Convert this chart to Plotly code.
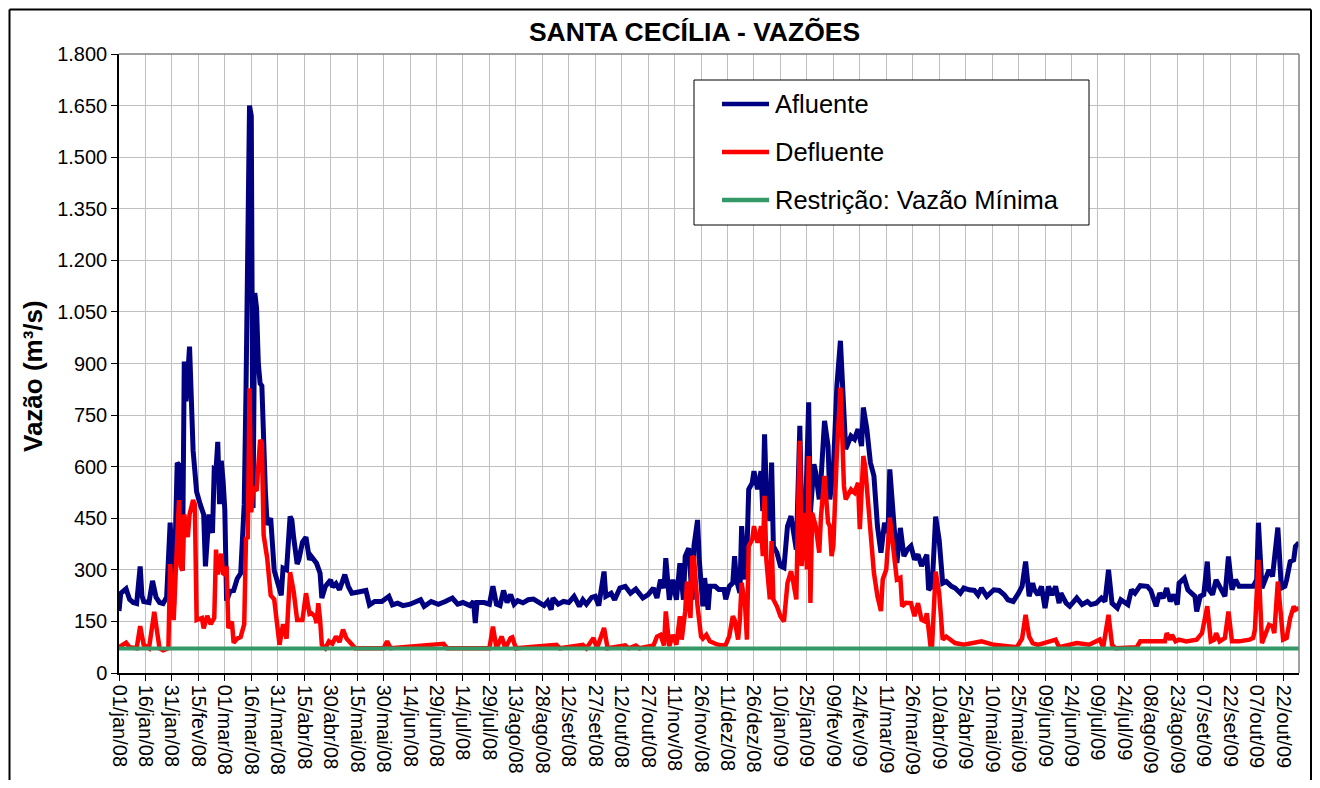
import pandas as pd
import plotly.graph_objects as go

# ---------------- data ----------------
data_inicial = "2008-01-01"
data_final = "2009-10-31"

dias_afluente = [0, 1, 4, 6, 8, 10, 12, 13, 14, 17, 19, 21, 23, 25, 27, 29, 30, 31, 33, 35, 36, 37, 38, 40, 42, 43, 44, 46, 48, 49, 51, 53, 54, 55, 56, 57, 58, 59, 60, 61, 63, 65, 67, 69, 71, 72, 74, 75, 76, 77, 78, 79, 80, 81, 82, 83, 84, 86, 88, 90, 92, 93, 95, 97, 98, 99, 101, 102, 104, 106, 108, 109, 110, 112, 114, 115, 117, 120, 121, 123, 125, 128, 130, 132, 135, 140, 142, 145, 149, 153, 155, 158, 161, 165, 171, 173, 177, 181, 185, 189, 192, 195, 199, 201, 202, 203, 207, 210, 212, 214, 216, 218, 220, 222, 224, 226, 229, 232, 235, 238, 241, 243, 245, 246, 249, 252, 255, 258, 261, 263, 265, 268, 270, 272, 275, 276, 279, 281, 284, 287, 290, 293, 295, 297, 300, 303, 305, 307, 309, 310, 312, 314, 316, 318, 320, 321, 323, 325, 326, 328, 329, 331, 332, 334, 335, 338, 340, 343, 344, 346, 348, 349, 350, 352, 353, 355, 356, 357, 359, 360, 362, 364, 365, 366, 367, 369, 370, 371, 373, 375, 377, 379, 381, 382, 384, 386, 387, 389, 391, 392, 394, 395, 397, 398, 400, 402, 403, 405, 407, 409, 410, 412, 415, 417, 419, 421, 422, 424, 426, 428, 430, 432, 434, 436, 437, 439, 441, 443, 445, 447, 449, 451, 453, 455, 457, 458, 459, 461, 463, 465, 467, 469, 472, 474, 477, 479, 482, 485, 487, 489, 492, 496, 499, 502, 504, 507, 510, 512, 514, 516, 518, 519, 521, 523, 525, 527, 529, 531, 533, 534, 537, 539, 543, 546, 549, 551, 554, 557, 559, 561, 563, 566, 568, 570, 572, 574, 576, 579, 583, 585, 586, 588, 590, 592, 594, 596, 598, 600, 601, 604, 606, 608, 610, 611, 613, 615, 617, 618, 620, 622, 624, 627, 629, 631, 633, 635, 640, 643, 645, 646, 648, 650, 652, 654, 657, 659, 661, 662, 664, 666, 667, 669]
vazao_afluente = [180, 232, 245, 214, 205, 202, 310, 225, 208, 205, 268, 220, 205, 202, 220, 437, 330, 196, 611, 600, 298, 906, 790, 949, 648, 600, 527, 491, 461, 310, 461, 407, 593, 590, 672, 491, 617, 560, 473, 210, 238, 240, 274, 290, 491, 822, 1650, 1620, 480, 1105, 1060, 900, 842, 835, 600, 527, 431, 450, 298, 260, 226, 305, 300, 455, 445, 395, 317, 330, 380, 395, 329, 339, 330, 319, 290, 218, 252, 271, 250, 260, 242, 286, 252, 232, 235, 240, 198, 208, 208, 223, 198, 203, 196, 200, 213, 194, 208, 200, 208, 218, 200, 205, 196, 208, 145, 205, 205, 200, 252, 200, 196, 240, 205, 228, 200, 210, 204, 213, 215, 205, 196, 208, 184, 218, 200, 208, 205, 223, 194, 213, 200, 220, 223, 196, 295, 223, 232, 213, 247, 252, 232, 244, 228, 218, 228, 247, 218, 271, 247, 334, 213, 271, 213, 319, 213, 339, 363, 213, 370, 445, 329, 194, 276, 184, 252, 252, 243, 243, 214, 252, 262, 340, 272, 233, 427, 272, 350, 534, 553, 587, 534, 587, 471, 694, 524, 442, 612, 369, 350, 311, 306, 427, 456, 427, 359, 719, 466, 418, 787, 466, 607, 583, 505, 563, 733, 660, 505, 592, 835, 966, 854, 651, 689, 680, 709, 660, 772, 709, 612, 573, 427, 350, 437, 408, 592, 476, 320, 422, 340, 359, 369, 330, 345, 311, 330, 344, 242, 252, 455, 387, 261, 266, 252, 247, 232, 247, 242, 240, 227, 247, 223, 242, 240, 227, 213, 208, 232, 252, 324, 223, 261, 242, 227, 252, 189, 252, 227, 252, 203, 232, 203, 194, 218, 199, 208, 199, 203, 218, 208, 300, 203, 189, 213, 208, 199, 242, 232, 254, 252, 240, 223, 194, 232, 218, 247, 208, 228, 199, 261, 276, 242, 232, 223, 179, 223, 228, 324, 242, 228, 271, 252, 223, 339, 242, 271, 252, 252, 252, 271, 437, 247, 276, 300, 281, 423, 247, 252, 271, 324, 329, 368, 379]

dias_defluente = [0, 4, 6, 10, 12, 14, 17, 20, 22, 23, 25, 28, 29, 31, 32, 34, 35, 36, 37, 39, 40, 42, 43, 44, 47, 48, 50, 52, 54, 55, 56, 58, 59, 60, 61, 62, 64, 65, 67, 69, 71, 72, 73, 74, 75, 76, 78, 80, 81, 82, 84, 86, 88, 90, 91, 93, 95, 97, 99, 101, 104, 106, 108, 109, 111, 112, 113, 114, 115, 117, 119, 121, 123, 125, 127, 129, 132, 134, 150, 152, 154, 184, 186, 210, 212, 214, 217, 219, 222, 223, 225, 248, 250, 263, 265, 269, 271, 275, 277, 287, 289, 293, 295, 303, 305, 307, 309, 310, 312, 314, 316, 318, 319, 321, 322, 324, 325, 326, 328, 330, 331, 333, 335, 337, 339, 342, 344, 346, 348, 349, 351, 352, 353, 355, 356, 357, 359, 360, 362, 364, 365, 366, 367, 369, 370, 371, 373, 375, 377, 379, 381, 382, 384, 385, 386, 387, 389, 390, 391, 392, 393, 395, 397, 398, 400, 402, 403, 404, 405, 407, 409, 410, 411, 412, 415, 417, 419, 420, 422, 423, 425, 426, 428, 430, 432, 433, 435, 437, 439, 441, 443, 444, 446, 448, 449, 451, 453, 455, 457, 458, 460, 461, 463, 465, 467, 469, 472, 474, 479, 489, 496, 509, 512, 514, 516, 518, 521, 527, 531, 533, 543, 550, 556, 558, 561, 563, 565, 577, 579, 593, 594, 596, 597, 599, 601, 605, 611, 614, 617, 619, 621, 622, 624, 627, 629, 631, 635, 641, 643, 644, 646, 648, 650, 652, 654, 655, 657, 659, 660, 662, 664, 666, 667, 669]
vazao_defluente = [75, 88, 75, 72, 136, 82, 72, 178, 106, 72, 66, 72, 317, 154, 274, 503, 310, 298, 461, 395, 461, 503, 490, 154, 160, 130, 166, 142, 160, 359, 287, 347, 290, 287, 310, 130, 150, 88, 100, 105, 142, 395, 390, 828, 467, 539, 530, 678, 670, 401, 335, 226, 214, 130, 82, 142, 100, 293, 238, 154, 154, 232, 172, 174, 165, 145, 203, 155, 82, 72, 92, 85, 106, 90, 126, 100, 82, 72, 72, 92, 72, 85, 72, 72, 135, 72, 106, 72, 102, 104, 72, 82, 72, 82, 72, 102, 72, 131, 72, 80, 72, 80, 72, 80, 106, 111, 80, 179, 78, 111, 82, 165, 97, 179, 266, 160, 339, 335, 194, 106, 100, 111, 92, 87, 83, 80, 82, 107, 165, 155, 97, 155, 262, 194, 97, 369, 388, 427, 379, 427, 340, 515, 330, 214, 384, 214, 194, 165, 150, 262, 296, 272, 214, 476, 675, 311, 466, 301, 631, 204, 466, 427, 350, 456, 573, 437, 427, 340, 369, 641, 830, 699, 544, 505, 534, 524, 553, 418, 631, 602, 466, 408, 291, 223, 180, 272, 301, 452, 350, 272, 277, 194, 204, 204, 203, 165, 203, 155, 150, 174, 82, 82, 295, 232, 97, 106, 92, 87, 82, 92, 82, 75, 100, 169, 106, 87, 82, 92, 97, 75, 87, 82, 97, 75, 169, 82, 72, 75, 92, 92, 116, 97, 111, 92, 97, 92, 97, 116, 194, 92, 97, 116, 92, 102, 179, 92, 92, 97, 102, 126, 329, 87, 111, 140, 135, 116, 266, 126, 97, 102, 160, 194, 184, 189]

vazao_minima = 71  # Restrição: Vazão Mínima (m³/s)

rotulos_x = ["01/jan/08", "16/jan/08", "31/jan/08", "15/fev/08", "01/mar/08", "16/mar/08",
             "31/mar/08", "15/abr/08", "30/abr/08", "15/mai/08", "30/mai/08", "14/jun/08",
             "29/jun/08", "14/jul/08", "29/jul/08", "13/ago/08", "28/ago/08", "12/set/08",
             "27/set/08", "12/out/08", "27/out/08", "11/nov/08", "26/nov/08", "11/dez/08",
             "26/dez/08", "10/jan/09", "25/jan/09", "09/fev/09", "24/fev/09", "11/mar/09",
             "26/mar/09", "10/abr/09", "25/abr/09", "10/mai/09", "25/mai/09", "09/jun/09",
             "24/jun/09", "09/jul/09", "24/jul/09", "08/ago/09", "23/ago/09", "07/set/09",
             "22/set/09", "07/out/09", "22/out/09"]

nomes_series = ["Afluente", "Defluente", "Restrição: Vazão Mínima"]
cores_series = ["#000080", "#FF0000", "#339966"]
larguras_series = [5, 4.5, 4]

# ---------------- figure ----------------
base = pd.Timestamp(data_inicial)
datas_afl = base + pd.to_timedelta(dias_afluente, unit="D")
datas_def = base + pd.to_timedelta(dias_defluente, unit="D")
datas_min = [pd.Timestamp(data_inicial), pd.Timestamp(data_final)]
tick_datas = pd.date_range(data_inicial, periods=len(rotulos_x), freq="15D")

FONT = "Liberation Sans, Arial, sans-serif"

fig = go.Figure()
fig.add_trace(go.Scatter(x=datas_afl, y=vazao_afluente, mode="lines", name=nomes_series[0],
                         line=dict(color=cores_series[0], width=larguras_series[0])))
fig.add_trace(go.Scatter(x=datas_def, y=vazao_defluente, mode="lines", name=nomes_series[1],
                         line=dict(color=cores_series[1], width=larguras_series[1])))
fig.add_trace(go.Scatter(x=datas_min, y=[vazao_minima] * 2, mode="lines", name=nomes_series[2],
                         line=dict(color=cores_series[2], width=larguras_series[2])))

# page has an 8px body margin: figure pixel = page pixel - 8
OFF = 8
W, H = 1304, 772
L, R, T, B = 111, 13, 46, 107
pw, ph = W - L - R, H - T - B


def px_x(page_x):
    return (page_x - OFF - L) / pw


def px_y(page_y):
    return (H - B - (page_y - OFF)) / ph


fig.update_layout(
    width=W, height=H,
    margin=dict(l=L, r=R, t=T, b=B, autoexpand=False),
    paper_bgcolor="white", plot_bgcolor="white",
    separators=",.",
    font=dict(family=FONT, color="black"),
    title=dict(text="SANTA CECÍLIA - VAZÕES", x=(694.5 - OFF) / W, xanchor="center",
               y=1 - (32 - OFF) / H, yanchor="middle",
               font=dict(family=FONT, size=26.5, weight="bold", color="black")),
    showlegend=False,
    xaxis=dict(type="date", range=[data_inicial, data_final],
               tickmode="array", tickvals=tick_datas, ticktext=rotulos_x,
               tickangle=90, tickfont=dict(family=FONT, size=20, color="black"),
               showgrid=True, gridcolor="#c0c0c0", gridwidth=1,
               ticks="outside", ticklen=6, tickcolor="black",
               showline=True, linecolor="black", linewidth=1.5, zeroline=False),
    yaxis=dict(range=[0, 1800], tickmode="linear", tick0=0, dtick=150,
               tickformat=",.0f", tickfont=dict(family=FONT, size=20, color="black"),
               showgrid=True, gridcolor="#c0c0c0", gridwidth=1,
               ticks="outside", ticklen=6, tickcolor="black",
               showline=True, linecolor="black", linewidth=1.5, zeroline=False),
)

# y axis title
fig.add_annotation(text="<b>Vazão (m³/s)</b>", textangle=-90, showarrow=False,
                   xref="paper", yref="paper", x=px_x(33), y=px_y(376),
                   xanchor="center", yanchor="middle",
                   font=dict(family=FONT, size=26, color="black"))

# plot-area top / right border (gray)
fig.add_shape(type="line", xref="paper", yref="paper", x0=0, x1=1, y0=1, y1=1,
              line=dict(color="#808080", width=1.5))
fig.add_shape(type="line", xref="paper", yref="paper", x0=1, x1=1, y0=0, y1=1,
              line=dict(color="#808080", width=1.5))

# legend box (drawn like the Excel legend)
fig.add_shape(type="rect", xref="paper", yref="paper",
              x0=px_x(694), x1=px_x(1089), y0=px_y(225), y1=px_y(80),
              line=dict(color="black", width=1), fillcolor="white", layer="above")
for i, (nome, cor) in enumerate(zip(nomes_series, cores_series)):
    yy = 104 + 48 * i
    fig.add_shape(type="line", xref="paper", yref="paper",
                  x0=px_x(722), x1=px_x(769), y0=px_y(yy), y1=px_y(yy),
                  line=dict(color=cor, width=4.5), layer="above")
    fig.add_annotation(text=nome, showarrow=False, xref="paper", yref="paper",
                       x=px_x(773), y=px_y(yy), xanchor="left", yanchor="middle",
                       font=dict(family=FONT, size=25.5, color="black"))

# outer chart frame (black) - left, top and right edges (bottom runs off the page)
fx0, fx1 = px_x(OFF + 1.5), px_x(1311)
fy_top, fy_bot = px_y(OFF + 1.5), px_y(900)
for (xa, ya, xb, yb) in [(fx0, fy_bot, fx0, fy_top), (fx0, fy_top, fx1, fy_top),
                         (fx1, fy_top, fx1, fy_bot)]:
    fig.add_shape(type="line", xref="paper", yref="paper", x0=xa, y0=ya, x1=xb, y1=yb,
                  line=dict(color="black", width=2))

fig.write_html("out.html")
